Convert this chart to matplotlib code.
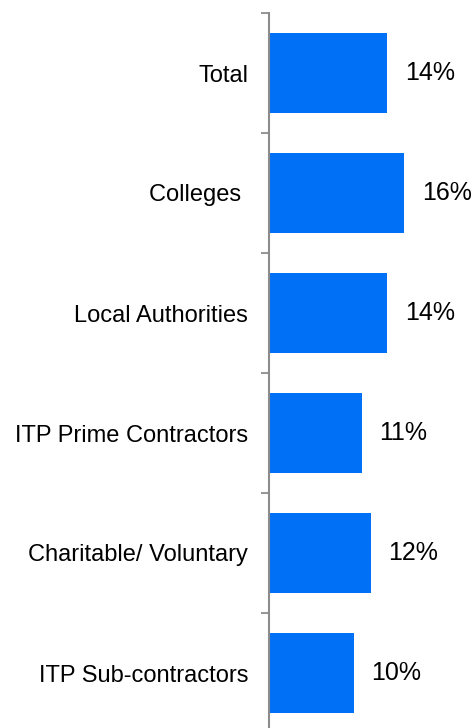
import matplotlib
matplotlib.use("Agg")
import matplotlib.pyplot as plt
import numpy as np

categories = ["Total", "Colleges ", "Local Authorities", "ITP Prime Contractors",
              "Charitable/ Voluntary", "ITP Sub-contractors"]
values = [14, 16, 14, 11, 12, 10]
value_labels = ["14%", "16%", "14%", "11%", "12%", "10%"]

plt.rcParams['font.family'] = ['Liberation Sans', 'DejaVu Sans']

W, H = 476, 728
fig = plt.figure(figsize=(W / 100, H / 100), dpi=100)
left_px, top_px, bottom_px = 269, 13, 733
right_px = 476
ax = fig.add_axes([left_px / W, (H - bottom_px) / H,
                   (right_px - left_px) / W, (bottom_px - top_px) / H])

n = len(categories)
y = np.arange(n)
ax.barh(y, values, height=0.667, color="#0070F7", zorder=2)
ax.set_ylim(n - 0.5, -0.5)
ax.set_xlim(0, (right_px - left_px) / 8.46)

ax.set_yticks(y)
ax.set_yticklabels(categories, fontsize=17, color="#000000")
ax.tick_params(axis='y', which='major', length=0, pad=15)
ax.set_yticks(np.arange(n + 1) - 0.5, minor=True)
ax.tick_params(axis='y', which='minor', length=5.5, width=1.3, color="#8c8c8c", direction='out')
ax.set_xticks([])

for s in ["top", "right", "bottom"]:
    ax.spines[s].set_visible(False)
ax.spines["left"].set_color("#8c8c8c")
ax.spines["left"].set_linewidth(1.5)

for yi, v, lab in zip(y, values, value_labels):
    ax.annotate(lab, xy=(v, yi), xytext=(12.5, 0), textcoords="offset points",
                ha="left", va="center", fontsize=18, color="#000000")

fig.savefig("out.png", dpi=100)
